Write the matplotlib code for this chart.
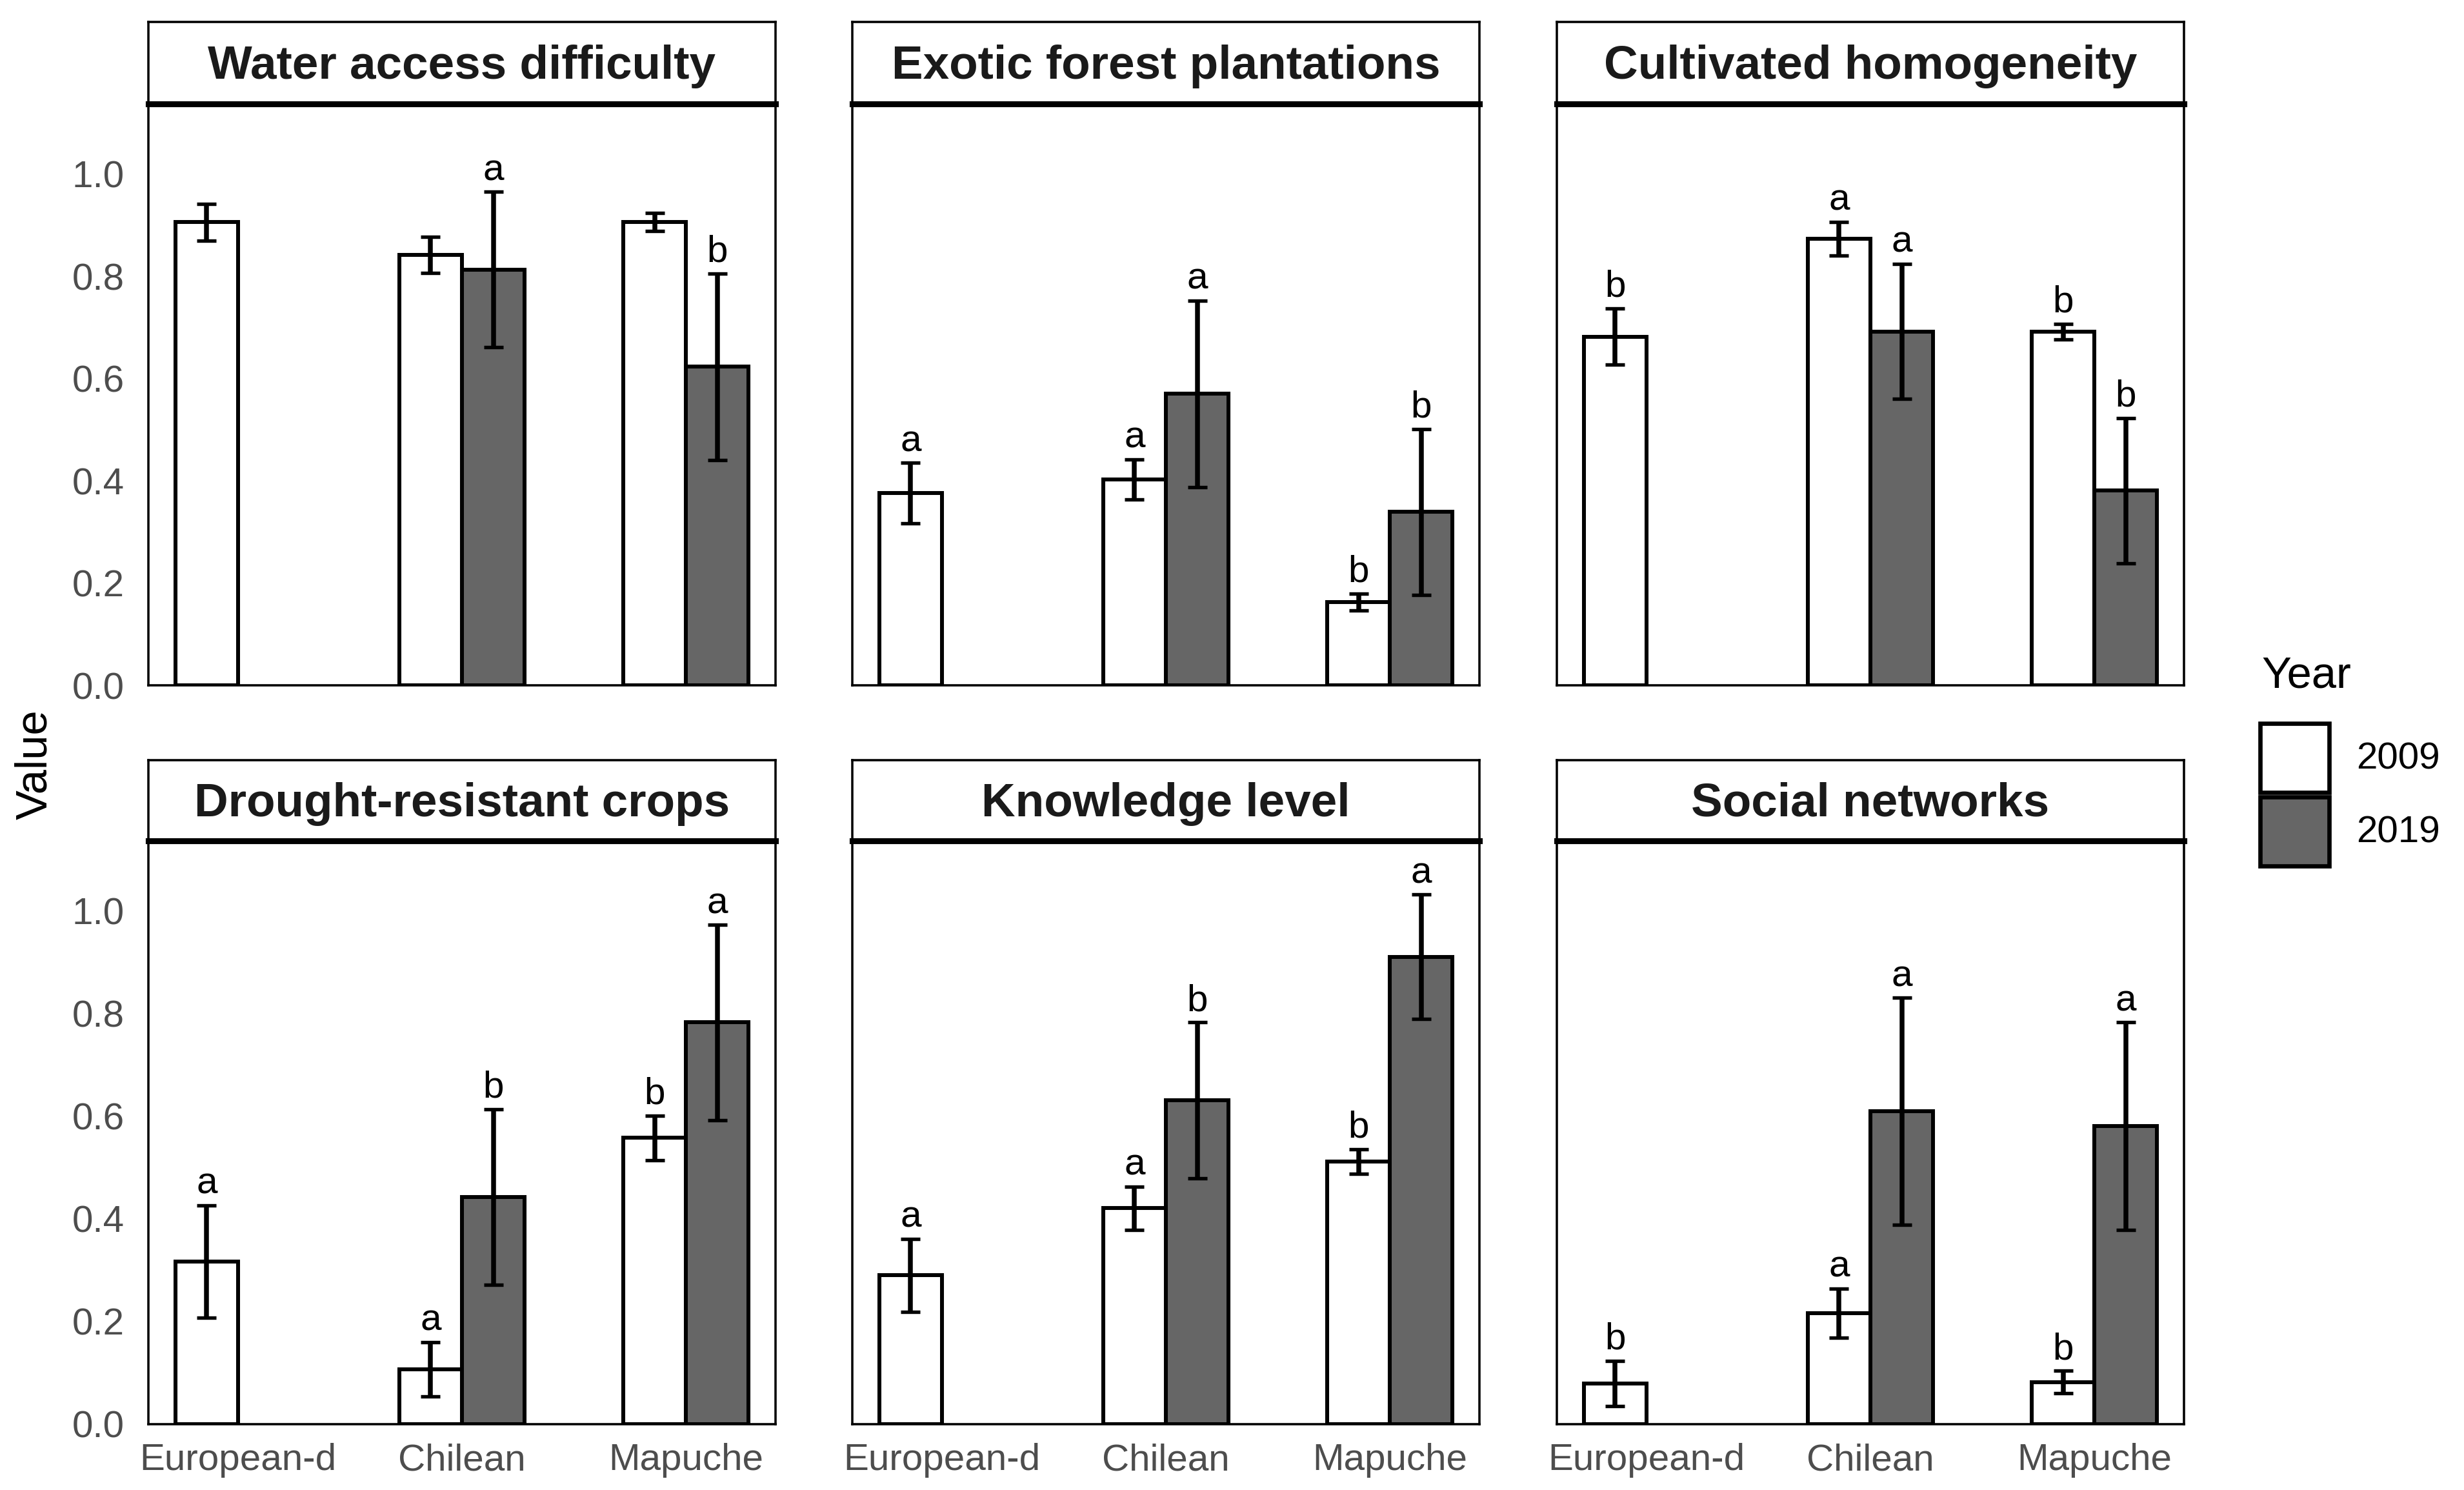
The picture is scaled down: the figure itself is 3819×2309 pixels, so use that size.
import numpy as np
import matplotlib
matplotlib.use("Agg")
import matplotlib.pyplot as plt
from matplotlib.patches import Rectangle

plt.rcParams['font.family'] = ['Liberation Sans', 'DejaVu Sans']

categories = ["European-d", "Chilean", "Mapuche"]
years = ["2009", "2019"]
panel_titles = ["Water access difficulty", "Exotic forest plantations", "Cultivated homogeneity",
                "Drought-resistant crops", "Knowledge level", "Social networks"]

nan = np.nan
mean_2009 = [[0.906, 0.842, 0.906], [0.376, 0.403, 0.163], [0.682, 0.873, 0.692],
             [0.317, 0.107, 0.558], [0.290, 0.421, 0.512], [0.079, 0.216, 0.082]]
se_2009 = [[0.036, 0.035, 0.018], [0.059, 0.039, 0.016], [0.055, 0.033, 0.015],
           [0.110, 0.053, 0.043], [0.071, 0.042, 0.024], [0.044, 0.048, 0.022]]
mean_2019 = [[nan, 0.813, 0.623], [nan, 0.570, 0.339], [nan, 0.692, 0.381],
             [nan, 0.443, 0.783], [nan, 0.631, 0.911], [nan, 0.610, 0.581]]
se_2019 = [[nan, 0.152, 0.182], [nan, 0.182, 0.162], [nan, 0.132, 0.142],
           [nan, 0.171, 0.190], [nan, 0.152, 0.121], [nan, 0.221, 0.202]]
letters_2009 = [["", "", ""], ["a", "a", "b"], ["b", "a", "b"],
                ["a", "a", "b"], ["a", "a", "b"], ["b", "a", "b"]]
letters_2019 = [["", "a", "b"], ["", "a", "b"], ["", "a", "b"],
                ["", "b", "a"], ["", "b", "a"], ["", "a", "a"]]
yticks = [0.0, 0.2, 0.4, 0.6, 0.8, 1.0]

fill_colors = ["white", "#666666"]

W, H = 3819, 2309
fig = plt.figure(figsize=(W / 300, H / 300), dpi=300)

col_x = [230, 1321, 2413]
panel_w = 972
rows = [  # (strip_top, panel_top, panel_bottom) in pixels
    (34, 161, 1062),
    (1178, 1303, 2207),
]

bw = 0.28
x = np.arange(1, len(categories) + 1)

for i, title in enumerate(panel_titles):
    r, c = divmod(i, 3)
    st, pt, pb = rows[r]
    left = col_x[c] / W
    ax = fig.add_axes([left, 1 - pb / H, panel_w / W, (pb - pt) / H])
    sax = fig.add_axes([left, 1 - pt / H, panel_w / W, (pt - st) / H])

    m09 = np.array(mean_2009[i]); s09 = np.array(se_2009[i])
    m19 = np.array(mean_2019[i]); s19 = np.array(se_2019[i])

    ax.bar(x - bw / 2, m09, width=bw, color=fill_colors[0], edgecolor="black", linewidth=1.45, zorder=2)
    ax.bar(x + bw / 2, m19, width=bw, color=fill_colors[1], edgecolor="black", linewidth=1.45, zorder=2)
    ax.errorbar(x - bw / 2, m09, yerr=s09, fmt="none", ecolor="black", elinewidth=1.8,
                capsize=3.6, capthick=1.3, zorder=3)
    ax.errorbar(x + bw / 2, m19, yerr=s19, fmt="none", ecolor="black", elinewidth=1.8,
                capsize=3.6, capthick=1.3, zorder=3)

    for j in range(len(categories)):
        if letters_2009[i][j]:
            ax.text(x[j] - bw / 2, m09[j] + s09[j] + 0.023, letters_2009[i][j],
                    ha="center", va="baseline", fontsize=14, color="black")
        if letters_2019[i][j]:
            ax.text(x[j] + bw / 2, m19[j] + s19[j] + 0.023, letters_2019[i][j],
                    ha="center", va="baseline", fontsize=14, color="black")

    ax.set_xlim(0.6, 3.4)
    ax.set_ylim(0, 1.137)
    ax.set_xticks(x)
    ax.set_yticks(yticks)
    ax.tick_params(length=0, labelsize=14, labelcolor="#4D4D4D")
    ax.tick_params(axis="y", pad=9)
    ax.tick_params(axis="x", pad=7)
    if c == 0:
        ax.set_yticklabels([f"{v:.1f}" for v in yticks])
    else:
        ax.set_yticklabels([])
    if r == 1:
        ax.set_xticklabels(categories)
    else:
        ax.set_xticklabels([])
    for sp in ax.spines.values():
        sp.set_linewidth(0.85)
        sp.set_color("black")

    sax.set_xticks([]); sax.set_yticks([])
    sax.set_xlim(0, 1); sax.set_ylim(0, 1)
    for sp in sax.spines.values():
        sp.set_linewidth(0.85)
    sax.spines["bottom"].set_linewidth(2.2)
    sax.text(0.5, 0.46, title, ha="center", va="center", fontsize=17.5, fontweight="bold",
             color="#1A1A1A")

fig.text(54 / W, 1 - 1185 / H, "Value", rotation=90, ha="center", va="center", fontsize=16.5)

# Legend
fig.text(3505 / W, 1 - 1047 / H, "Year", ha="left", va="center", fontsize=16.5)
key_tops = [1121, 1235]
for k, yr in enumerate(years):
    kt = key_tops[k]
    fig.patches.append(Rectangle((3503 / W, 1 - (kt + 107) / H), 107 / W, 107 / H,
                                 transform=fig.transFigure, facecolor=fill_colors[k],
                                 edgecolor="black", linewidth=1.6))
    fig.text(3652 / W, 1 - (kt + 55) / H, yr, ha="left", va="center", fontsize=14)

fig.savefig("out.png", dpi=300)
